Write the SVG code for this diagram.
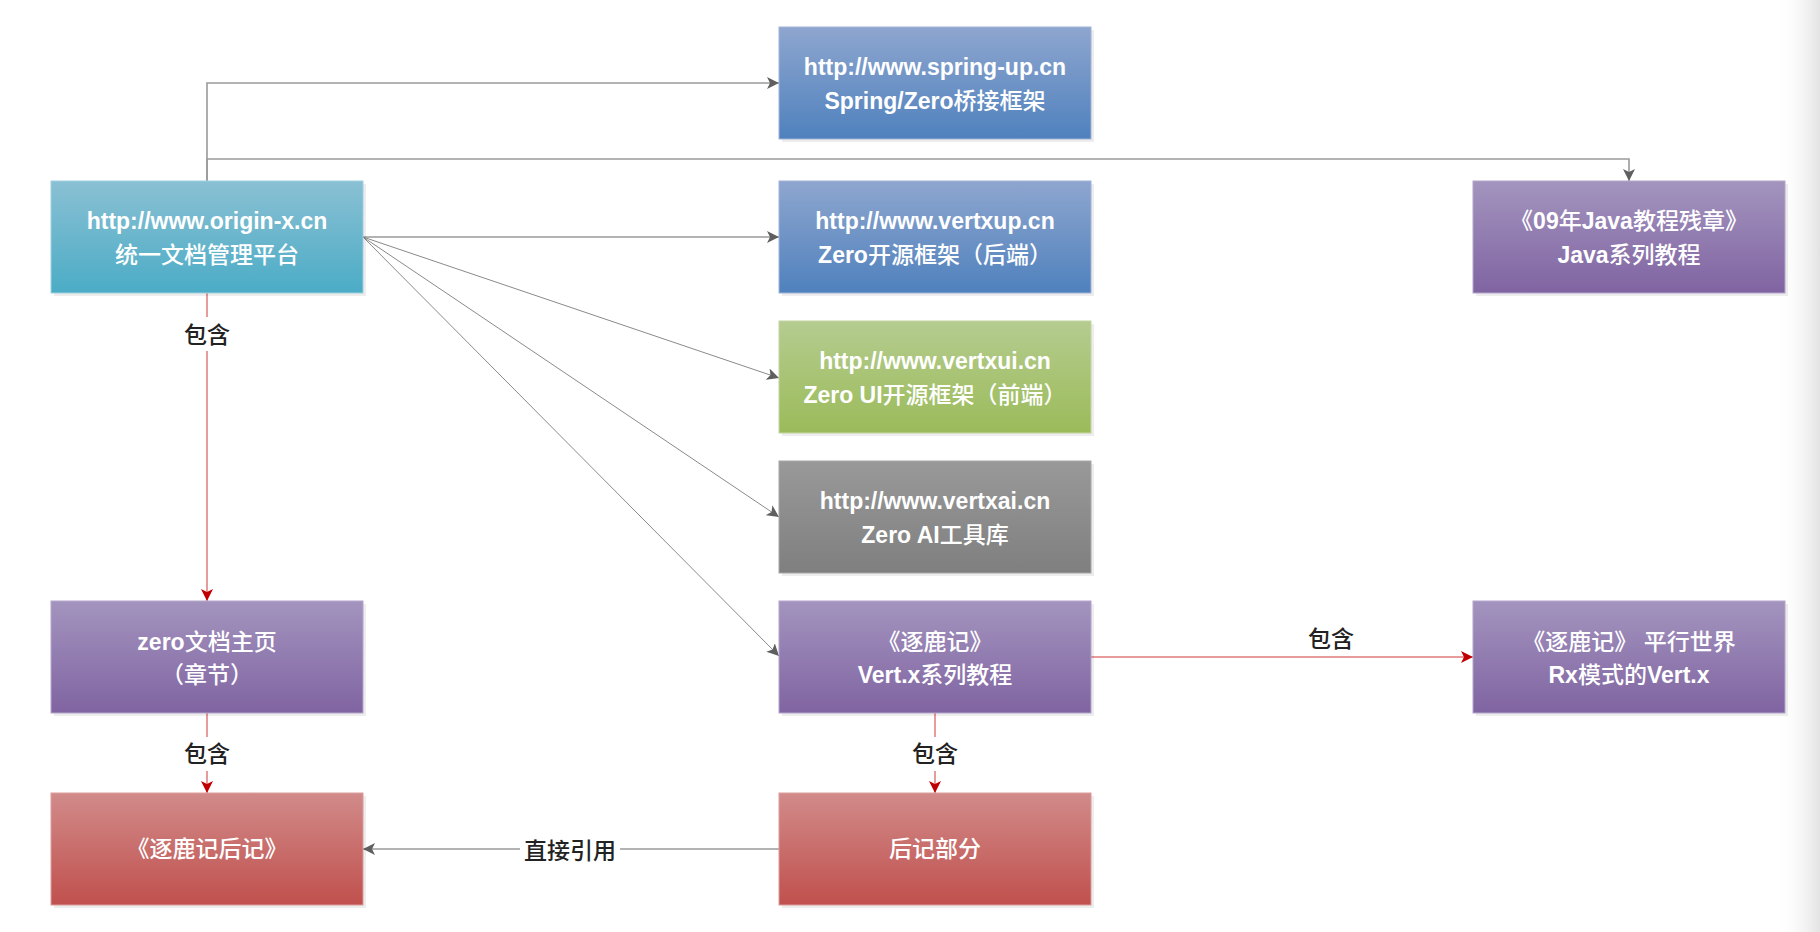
<svg xmlns="http://www.w3.org/2000/svg" width="1820" height="932" viewBox="0 0 1820 932">
<defs>
<style>
.t{font-family:"Liberation Sans","Noto Sans CJK SC",sans-serif;font-size:23px;font-weight:bold;fill:#ffffff;text-anchor:middle}
.c{font-weight:500}
.lbl{font-family:"Noto Sans CJK SC",sans-serif;font-size:23px;font-weight:500;fill:#222222;text-anchor:middle}
.sh{fill:#000000;fill-opacity:0.07}
.g{fill:none;stroke:#9a9a9a;stroke-width:1.6}
.gt{fill:none;stroke:#8a8a8a;stroke-width:1}
.r{fill:none;stroke:#e07a7a;stroke-width:1.5}
.bg{fill:#ffffff}
</style>
<linearGradient id="gAqua" x1="0" y1="0" x2="0" y2="1"><stop offset="0" stop-color="#8AC0D3"/><stop offset="1" stop-color="#4BACC6"/></linearGradient>
<linearGradient id="gBlue" x1="0" y1="0" x2="0" y2="1"><stop offset="0" stop-color="#8EA6CF"/><stop offset="1" stop-color="#4F81BD"/></linearGradient>
<linearGradient id="gGreen" x1="0" y1="0" x2="0" y2="1"><stop offset="0" stop-color="#B5CC90"/><stop offset="1" stop-color="#9BBB59"/></linearGradient>
<linearGradient id="gGray" x1="0" y1="0" x2="0" y2="1"><stop offset="0" stop-color="#999999"/><stop offset="1" stop-color="#7F7F7F"/></linearGradient>
<linearGradient id="gPurple" x1="0" y1="0" x2="0" y2="1"><stop offset="0" stop-color="#A394BE"/><stop offset="1" stop-color="#8064A2"/></linearGradient>
<linearGradient id="gRed" x1="0" y1="0" x2="0" y2="1"><stop offset="0" stop-color="#D18B8A"/><stop offset="1" stop-color="#C0504D"/></linearGradient>
<linearGradient id="gEdge" x1="0" y1="0" x2="1" y2="0"><stop offset="0" stop-color="#ffffff" stop-opacity="0"/><stop offset="1" stop-color="#e3e3e3"/></linearGradient>
<marker id="aG" viewBox="0 0 12 12" markerWidth="12" markerHeight="12" refX="12" refY="6" orient="auto" markerUnits="userSpaceOnUse"><path d="M0,0 L12,6 L0,12 L3,6 Z" fill="#5f5f5f"/></marker>
<marker id="aR" viewBox="0 0 12 12" markerWidth="12" markerHeight="12" refX="12" refY="6" orient="auto" markerUnits="userSpaceOnUse"><path d="M0,0 L12,6 L0,12 L3,6 Z" fill="#c00000"/></marker>
</defs>
<rect x="0" y="0" width="1820" height="932" fill="#ffffff"/>
<rect x="1776" y="0" width="44" height="932" fill="url(#gEdge)"/>

<g id="connectors">
<path class="g" d="M207,181 V83 H779" marker-end="url(#aG)"/>
<path class="g" d="M207,181 V159 H1629 V181" marker-end="url(#aG)"/>
<path class="g" d="M363,237 H779" marker-end="url(#aG)"/>
<path class="gt" d="M363,237 L779,378" marker-end="url(#aG)"/>
<path class="gt" d="M363,237 L779,517" marker-end="url(#aG)"/>
<path class="gt" d="M363,237 L779,656" marker-end="url(#aG)"/>
<path class="g" d="M779,849 H363" marker-end="url(#aG)"/>
<path class="r" d="M207,293 V601" marker-end="url(#aR)"/>
<path class="r" d="M207,713 V793" marker-end="url(#aR)"/>
<path class="r" d="M935,713 V793" marker-end="url(#aR)"/>
<path class="r" d="M1091,657 H1473" marker-end="url(#aR)"/>
<rect class="bg" x="183" y="317" width="48" height="34"/>
<text class="lbl" x="207" y="343">包含</text>
<rect class="bg" x="183" y="737" width="48" height="34"/>
<text class="lbl" x="207" y="762">包含</text>
<rect class="bg" x="911" y="737" width="48" height="34"/>
<text class="lbl" x="935" y="762">包含</text>
<text class="lbl" x="1331" y="647">包含</text>
<rect class="bg" x="520" y="832" width="100" height="34"/>
<text class="lbl" x="570" y="859">直接引用</text>
</g>

<g id="origin">
<rect class="sh" x="54" y="184" width="312" height="112"/>
<rect x="51" y="181" width="312" height="112" fill="url(#gAqua)" stroke="#9fcfe0" stroke-width="1"/>
<text class="t" x="207" y="229">http://www.origin-x.cn</text>
<text class="t" x="207" y="263"><tspan class="c">统一文档管理平台</tspan></text>
</g>

<g id="springup">
<rect class="sh" x="782" y="30" width="312" height="112"/>
<rect x="779" y="27" width="312" height="112" fill="url(#gBlue)" stroke="#9fb4d8" stroke-width="1"/>
<text class="t" x="935" y="75">http://www.spring-up.cn</text>
<text class="t" x="935" y="109">Spring/Zero<tspan class="c">桥接框架</tspan></text>
</g>

<g id="vertxup">
<rect class="sh" x="782" y="184" width="312" height="112"/>
<rect x="779" y="181" width="312" height="112" fill="url(#gBlue)" stroke="#9fb4d8" stroke-width="1"/>
<text class="t" x="935" y="229">http://www.vertxup.cn</text>
<text class="t" x="935" y="263">Zero<tspan class="c">开源框架（后端）</tspan></text>
</g>

<g id="vertxui">
<rect class="sh" x="782" y="324" width="312" height="112"/>
<rect x="779" y="321" width="312" height="112" fill="url(#gGreen)" stroke="#c3d6a4" stroke-width="1"/>
<text class="t" x="935" y="369">http://www.vertxui.cn</text>
<text class="t" x="935" y="403">Zero UI<tspan class="c">开源框架（前端）</tspan></text>
</g>

<g id="vertxai">
<rect class="sh" x="782" y="464" width="312" height="112"/>
<rect x="779" y="461" width="312" height="112" fill="url(#gGray)" stroke="#a8a8a8" stroke-width="1"/>
<text class="t" x="935" y="509">http://www.vertxai.cn</text>
<text class="t" x="935" y="543">Zero AI<tspan class="c">工具库</tspan></text>
</g>

<g id="zhulu">
<rect class="sh" x="782" y="604" width="312" height="112"/>
<rect x="779" y="601" width="312" height="112" fill="url(#gPurple)" stroke="#b3a6cb" stroke-width="1"/>
<text class="t" x="935" y="650"><tspan class="c">《逐鹿记》</tspan></text>
<text class="t" x="935" y="683">Vert.x<tspan class="c">系列教程</tspan></text>
</g>

<g id="java">
<rect class="sh" x="1476" y="184" width="312" height="112"/>
<rect x="1473" y="181" width="312" height="112" fill="url(#gPurple)" stroke="#b3a6cb" stroke-width="1"/>
<text class="t" x="1629" y="229"><tspan class="c">《</tspan>09<tspan class="c">年</tspan>Java<tspan class="c">教程残章》</tspan></text>
<text class="t" x="1629" y="263">Java<tspan class="c">系列教程</tspan></text>
</g>

<g id="rx">
<rect class="sh" x="1476" y="604" width="312" height="112"/>
<rect x="1473" y="601" width="312" height="112" fill="url(#gPurple)" stroke="#b3a6cb" stroke-width="1"/>
<text class="t" x="1629" y="650"><tspan class="c">《逐鹿记》 平行世界</tspan></text>
<text class="t" x="1629" y="683">Rx<tspan class="c">模式的</tspan>Vert.x</text>
</g>

<g id="zerodoc">
<rect class="sh" x="54" y="604" width="312" height="112"/>
<rect x="51" y="601" width="312" height="112" fill="url(#gPurple)" stroke="#b3a6cb" stroke-width="1"/>
<text class="t" x="207" y="650">zero<tspan class="c">文档主页</tspan></text>
<text class="t" x="207" y="683"><tspan class="c">（章节）</tspan></text>
</g>

<g id="houji-book">
<rect class="sh" x="54" y="796" width="312" height="112"/>
<rect x="51" y="793" width="312" height="112" fill="url(#gRed)" stroke="#dc9d9b" stroke-width="1"/>
<text class="t" x="207" y="857"><tspan class="c">《逐鹿记后记》</tspan></text>
</g>

<g id="houji-part">
<rect class="sh" x="782" y="796" width="312" height="112"/>
<rect x="779" y="793" width="312" height="112" fill="url(#gRed)" stroke="#dc9d9b" stroke-width="1"/>
<text class="t" x="935" y="857"><tspan class="c">后记部分</tspan></text>
</g>
</svg>
